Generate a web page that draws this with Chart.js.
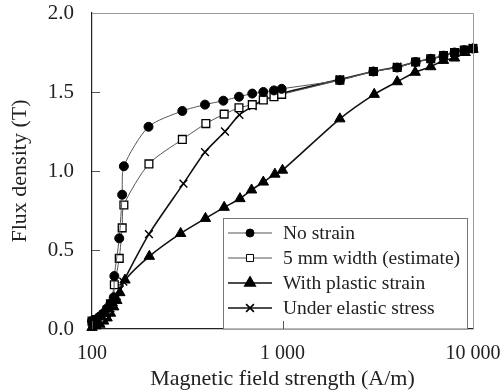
<!DOCTYPE html>
<html>
<head>
<meta charset="utf-8">
<script src="https://cdn.jsdelivr.net/npm/chart.js@4.4.1/dist/chart.umd.min.js"></script>
<style>
  html, body { margin: 0; padding: 0; background: #fff; }
  #wrap { width: 504px; height: 392px; }
</style>
</head>
<body>
<div id="wrap"><canvas id="chart" width="504" height="392"></canvas></div>
<script>
// Magnetic field strength (A/m) and flux density (T) per series
var noStrainH = [100, 105, 110, 115, 120, 125, 130, 131, 139, 144, 147, 198, 298, 392, 489, 591, 694, 793, 902, 990, 2000, 3000, 4000, 5000, 6000, 7000, 8000, 9000, 10000];
var noStrainB = [0.05, 0.06, 0.08, 0.10, 0.13, 0.16, 0.20, 0.335, 0.574, 0.85, 1.03, 1.28, 1.38, 1.42, 1.445, 1.47, 1.49, 1.50, 1.51, 1.52, 1.575, 1.63, 1.655, 1.69, 1.71, 1.73, 1.75, 1.765, 1.775];

var widthH = [100, 105, 110, 115, 120, 125, 131, 139, 144, 147, 199, 298, 396, 494, 591, 694, 793, 902, 990, 2000, 3000, 4000, 5000, 6000, 7000, 8000, 9000, 10000];
var widthB = [0.05, 0.06, 0.07, 0.09, 0.12, 0.16, 0.28, 0.447, 0.64, 0.785, 1.045, 1.20, 1.30, 1.36, 1.40, 1.42, 1.45, 1.47, 1.485, 1.575, 1.63, 1.655, 1.69, 1.71, 1.73, 1.75, 1.765, 1.775];

var plasticH = [100, 105, 110, 115, 120, 125, 130, 135, 140, 149, 200, 292, 394, 494, 598, 688, 793, 912, 1000, 2000, 3030, 4000, 4970, 6000, 7000, 8000, 9100, 10000];
var plasticB = [0.01, 0.02, 0.03, 0.05, 0.07, 0.10, 0.14, 0.18, 0.23, 0.31, 0.46, 0.605, 0.70, 0.77, 0.825, 0.88, 0.93, 0.98, 1.005, 1.33, 1.485, 1.565, 1.625, 1.66, 1.70, 1.715, 1.75, 1.77];

var elasticH = [100, 105, 110, 115, 120, 125, 130, 135, 140, 146, 199, 302, 392, 499, 594, 698, 793, 902, 990, 2000, 3000, 4000, 5000, 6000, 7000, 8000, 9000, 10000];
var elasticB = [0.04, 0.05, 0.06, 0.08, 0.10, 0.13, 0.17, 0.21, 0.25, 0.30, 0.60, 0.92, 1.12, 1.25, 1.355, 1.41, 1.45, 1.47, 1.49, 1.58, 1.63, 1.66, 1.69, 1.71, 1.73, 1.75, 1.765, 1.78];

var seriesNames = ['No strain', '5 mm width (estimate)', 'With plastic strain', 'Under elastic stress'];
var xTicks = [100, 1000, 10000];

function pairs(h, b) {
    var out = [];
    for (var i = 0; i < h.length; i++) {
        out.push({x: h[i], y: b[i]});
    }
    return out;
}

var serif = "'Liberation Serif', 'DejaVu Serif', serif";

// legend drawn inside the plot, bottom right
var boxLegend = {
    id: 'boxLegend',
    afterDraw: function (chart) {
        var ctx = chart.ctx;
        var area = chart.chartArea;
        var left = 223, right = 467, top = 218, bottom = area.bottom;
        ctx.save();
        ctx.fillStyle = '#fff';
        ctx.fillRect(left, top, right - left, bottom - top);
        ctx.strokeStyle = '#777';
        ctx.lineWidth = 1;
        ctx.strokeRect(left + 0.5, top + 0.5, right - left, bottom - top - 0.5);
        ctx.font = '19.5px ' + serif;
        ctx.textBaseline = 'middle';
        chart.data.datasets.forEach(function (ds, i) {
            var y = 233 + i * 25;
            ctx.strokeStyle = ds.borderColor;
            ctx.lineWidth = ds.borderWidth;
            ctx.beginPath();
            ctx.moveTo(228, y);
            ctx.lineTo(272, y);
            ctx.stroke();
            ctx.fillStyle = ds.pointBackgroundColor;
            ctx.strokeStyle = ds.pointBorderColor;
            Chart.helpers.drawPoint(ctx, {
                pointStyle: ds.pointStyle,
                radius: ds.legendRadius,
                rotation: 0,
                borderWidth: ds.pointBorderWidth
            }, 250, y);
            ctx.fillStyle = '#222';
            ctx.fillText(ds.label, 283, y + 1);
        });
        // inner tick marks and the grey top / right frame
        ctx.strokeStyle = '#555';
        ctx.lineWidth = 1;
        ctx.beginPath();
        xTicks.forEach(function (v) {
            var px = Math.round(chart.scales.x.getPixelForValue(v)) + 0.5;
            ctx.moveTo(px, area.bottom);
            ctx.lineTo(px, area.bottom - 8);
        });
        [0.5, 1.0, 1.5].forEach(function (v) {
            var py = Math.round(chart.scales.y.getPixelForValue(v)) + 0.5;
            ctx.moveTo(area.left, py);
            ctx.lineTo(area.left + 8, py);
        });
        ctx.stroke();
        ctx.strokeStyle = '#999';
        ctx.beginPath();
        ctx.moveTo(area.left, area.top + 0.5);
        ctx.lineTo(area.right + 0.5, area.top + 0.5);
        ctx.lineTo(area.right + 0.5, area.bottom);
        ctx.stroke();
        ctx.restore();
    }
};

var datasets = [
    {
        label: seriesNames[0],
        data: pairs(noStrainH, noStrainB),
        borderColor: '#555',
        borderWidth: 1,
        pointStyle: 'circle',
        pointRadius: 4.5,
        legendRadius: 4,
        pointBackgroundColor: '#000',
        pointBorderColor: '#000',
        pointBorderWidth: 1
    },
    {
        label: seriesNames[1],
        data: pairs(widthH, widthB),
        borderColor: '#555',
        borderWidth: 1,
        pointStyle: 'rect',
        pointRadius: 5.5,
        legendRadius: 5,
        pointBackgroundColor: '#fff',
        pointBorderColor: '#000',
        pointBorderWidth: 1.3
    },
    {
        label: seriesNames[2],
        data: pairs(plasticH, plasticB),
        borderColor: '#111',
        borderWidth: 1.6,
        pointStyle: 'triangle',
        pointRadius: 6,
        legendRadius: 6,
        pointBackgroundColor: '#000',
        pointBorderColor: '#000',
        pointBorderWidth: 1
    },
    {
        label: seriesNames[3],
        data: pairs(elasticH, elasticB),
        borderColor: '#111',
        borderWidth: 1.6,
        pointStyle: 'crossRot',
        pointRadius: 5.5,
        legendRadius: 5.5,
        pointBackgroundColor: '#000',
        pointBorderColor: '#000',
        pointBorderWidth: 1.4
    }
];

new Chart(document.getElementById('chart'), {
    type: 'line',
    data: {datasets: datasets},
    options: {
        responsive: false,
        animation: false,
        clip: false,
        elements: {line: {tension: 0.25}},
        layout: {padding: {left: 0, top: 13, right: 31, bottom: 0}},
        plugins: {
            legend: {display: false},
            tooltip: {enabled: false}
        },
        scales: {
            x: {
                type: 'logarithmic',
                min: 100,
                max: 10000,
                afterBuildTicks: function (scale) {
                    scale.ticks = xTicks.map(function (v) { return {value: v}; });
                },
                afterFit: function (scale) {
                    scale.height = 63;
                    scale.paddingLeft = 0;
                    scale.paddingRight = 0;
                },
                grid: {display: false},
                border: {display: true, color: '#222', width: 1.2},
                ticks: {
                    color: '#222',
                    padding: 5,
                    maxRotation: 0,
                    font: {family: serif, size: 20},
                    callback: function (v) {
                        return String(v).replace(/\B(?=(\d{3})+(?!\d))/g, ' ');
                    }
                },
                title: {
                    display: true,
                    text: 'Magnetic field strength (A/m)',
                    color: '#222',
                    font: {family: serif, size: 22},
                    padding: {top: 0, bottom: 0}
                }
            },
            y: {
                min: 0,
                max: 2.0,
                afterFit: function (scale) {
                    scale.width = 92;
                    scale.paddingTop = 0;
                    scale.paddingBottom = 0;
                },
                grid: {display: false},
                border: {display: true, color: '#222', width: 1.2},
                ticks: {
                    stepSize: 0.5,
                    color: '#222',
                    padding: 10,
                    font: {family: serif, size: 21},
                    callback: function (v) { return v.toFixed(1); }
                },
                title: {
                    display: true,
                    text: 'Flux density (T)',
                    color: '#222',
                    font: {family: serif, size: 22},
                    padding: {top: 7, bottom: 0}
                }
            }
        }
    },
    plugins: [boxLegend]
});
</script>
</body>
</html>
